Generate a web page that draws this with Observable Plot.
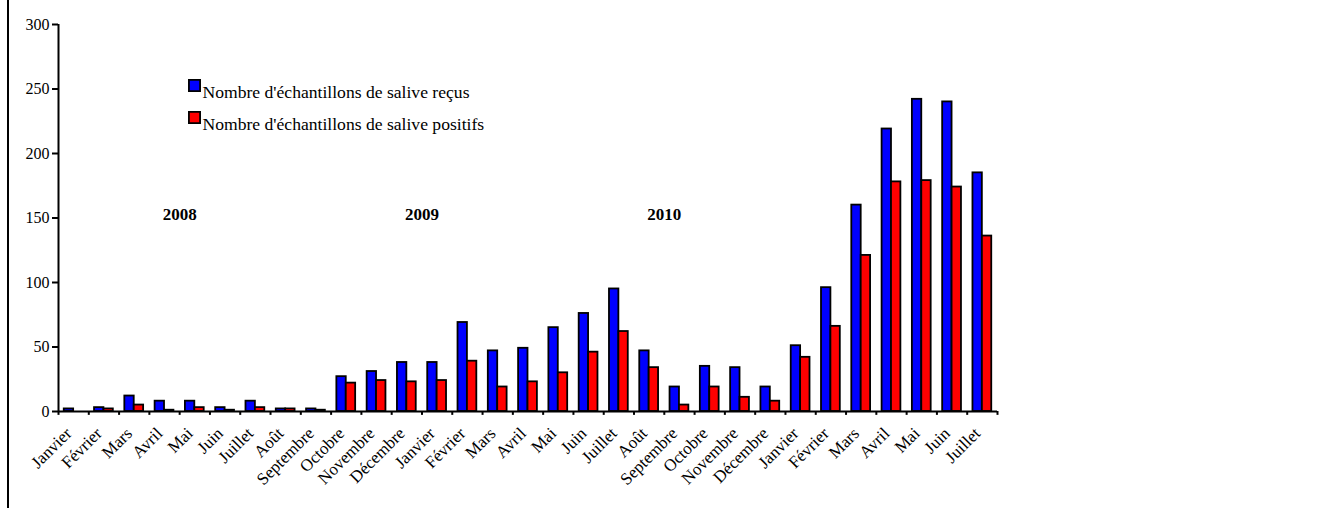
<!DOCTYPE html>
<html>
<head>
<meta charset="utf-8">
<script src="https://cdn.jsdelivr.net/npm/d3@7"></script>
<script src="https://cdn.jsdelivr.net/npm/@observablehq/plot@0.6"></script>
<style>
  html, body { margin: 0; padding: 0; background: #fff; }
  #wrap { position: relative; width: 1322px; height: 508px; overflow: hidden; }
  #border { position: absolute; left: 7px; top: 0; width: 2px; height: 508px; background: #000; }
  svg { display: block; }
</style>
</head>
<body>
<div id="wrap"></div>
<script>
const months = [
  "Janvier","Février","Mars","Avril","Mai","Juin","Juillet","Août","Septembre","Octobre","Novembre","Décembre",
  "Janvier","Février","Mars","Avril","Mai","Juin","Juillet","Août","Septembre","Octobre","Novembre","Décembre",
  "Janvier","Février","Mars","Avril","Mai","Juin","Juillet"
];
const recus =    [2,3,12,8,8,3,8,2,2,27,31,38,38,69,47,49,65,76,95,47,19,35,34,19,51,96,160,219,242,240,185];
const positifs = [0,2,5,1,3,1,3,2,1,22,24,23,24,39,19,23,30,46,62,34,5,19,11,8,42,66,121,178,179,174,136];
const years = ["2008","2009","2010"];
const yearAnchorMonth = [4,12,20];
const yTicks = [0,50,100,150,200,250,300];
const seriesNames = ["Nombre d'échantillons de salive reçus","Nombre d'échantillons de salive positifs"];
const seriesColors = ["#0000ff","#ff0000"];

const W = 1322, H = 508, ML = 58, MR = 325, MT = 24, MB = 97;
const bw = (W - ML - MR) / months.length;
const barW = 9.4;
const edge = bw / 2 - barW;

const rows = months.map((m, i) => ({i, month: m, recus: recus[i], positifs: positifs[i]}));
const yearRows = years.map((y, k) => ({year: y, i: yearAnchorMonth[k]}));
const font = "'Liberation Serif','Times New Roman',serif";

const chart = Plot.plot({
  width: W, height: H,
  marginLeft: ML, marginRight: MR, marginTop: MT, marginBottom: MB,
  style: {fontFamily: font, fontSize: "16px", background: "#fff", color: "#000"},
  x: {type: "band", domain: d3.range(months.length), padding: 0, round: false, axis: null},
  y: {domain: [0, 300], label: null},
  marks: [
    Plot.barY(rows, {x: "i", y: "recus", fill: seriesColors[0], stroke: "#000", strokeWidth: 1.8, insetLeft: edge, insetRight: bw / 2}),
    Plot.barY(rows, {x: "i", y: "positifs", fill: seriesColors[1], stroke: "#000", strokeWidth: 1.8, insetLeft: bw / 2, insetRight: edge}),
    Plot.axisY({ticks: yTicks, tickSize: 6, tickPadding: 3, tickFormat: d => d, fontSize: 16, fontFamily: font, strokeWidth: 2, label: null}),
    Plot.ruleY([0], {stroke: "#000", strokeWidth: 2}),
    Plot.ruleX([0], {x: d => d, y1: 0, y2: 300, dx: -bw / 2, stroke: "#000", strokeWidth: 2}),
    Plot.ruleX(rows, {x: "i", y1: 0, y2: -3, dx: -bw / 2, stroke: "#000", strokeWidth: 2}),
    Plot.ruleX([months.length - 1], {x: d => d, y1: 0, y2: -3, dx: bw / 2, stroke: "#000", strokeWidth: 2}),
    Plot.text(rows, {x: "i", text: "month", frameAnchor: "bottom", rotate: -45, textAnchor: "end", dx: -1, dy: 23, fontSize: 17}),
    Plot.text(yearRows, {x: "i", y: 150, text: "year", dx: -bw / 2, dy: -3, fontWeight: "bold", fontSize: 17}),
    Plot.dot([seriesNames[0]], {frameAnchor: "top-left", dx: 136, dy: 61, symbol: "square", r: 6.3, fill: seriesColors[0], stroke: "#000", strokeWidth: 1.8}),
    Plot.dot([seriesNames[1]], {frameAnchor: "top-left", dx: 136, dy: 93, symbol: "square", r: 6.3, fill: seriesColors[1], stroke: "#000", strokeWidth: 1.8}),
    Plot.text([seriesNames[0]], {frameAnchor: "top-left", dx: 144, dy: 61, textAnchor: "start", fontSize: 17.6}),
    Plot.text([seriesNames[1]], {frameAnchor: "top-left", dx: 144, dy: 93, textAnchor: "start", fontSize: 17.6})
  ]
});

const wrap = document.getElementById("wrap");
wrap.appendChild(chart);
const border = document.createElement("div");
border.id = "border";
wrap.appendChild(border);
</script>
</body>
</html>
